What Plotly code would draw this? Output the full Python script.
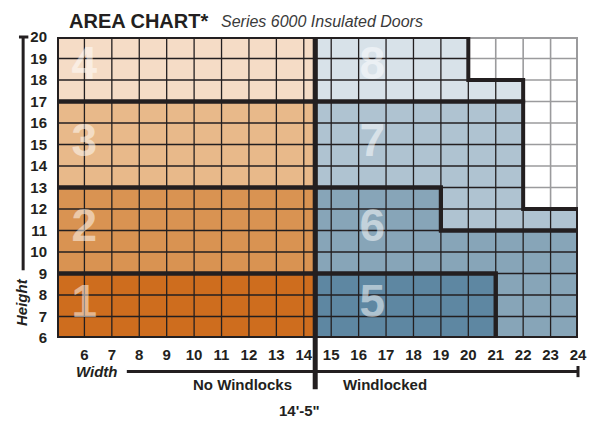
import plotly.graph_objects as go

# ---------------- data ----------------
width_ticks = list(range(6, 25))          # feet
height_ticks = list(range(6, 21))         # feet
divider = 14 + 5 / 12                     # 14'-5"

# top of coloured (allowed) area for each 1-ft column starting at 5..23
column_top = [20] * 15 + [18, 18, 12, 12]

orange_bands = [(6, 9), (9, 13), (13, 17), (17, 20)]
orange_colors = ["#CE6D1E", "#D99352", "#E8B98A", "#F5DCC6"]
orange_labels = ["1", "2", "3", "4"]
orange_label_y = [7.5, 11.05, 15.0, 18.6]

blue_x = [
    [divider, 21, 21, divider],
    [divider, 21, 21, 24, 24, 19, 19, divider],
    [divider, 19, 19, 24, 24, 22, 22, divider],
    [divider, 22, 22, 20, 20, divider],
]
blue_y = [
    [6, 6, 9, 9],
    [9, 9, 6, 6, 11, 11, 13, 13],
    [13, 13, 11, 11, 12, 12, 17, 17],
    [17, 17, 18, 18, 20, 20],
]
blue_colors = ["#5E87A2", "#87A5B8", "#AFC3D1", "#D8E2E9"]
blue_labels = ["5", "6", "7", "8"]
blue_label_y = [7.5, 11.05, 15.0, 18.6]

XMIN, XMAX = 5, 24
YMIN, YMAX = 6, 20

DARK = "#231F20"
GRAY = "#9B9B9D"
FONT = "Liberation Sans"

fig = go.Figure()

# ---------- fills ----------
for (y0, y1), c in zip(orange_bands, orange_colors):
    fig.add_trace(go.Scatter(x=[XMIN, divider, divider, XMIN], y=[y0, y0, y1, y1],
                             fill="toself", fillcolor=c, mode="lines",
                             line=dict(width=0), hoverinfo="skip", showlegend=False))
for xs, ys, c in zip(blue_x, blue_y, blue_colors):
    fig.add_trace(go.Scatter(x=xs, y=ys, fill="toself", fillcolor=c, mode="lines",
                             line=dict(width=0), hoverinfo="skip", showlegend=False))

# ---------- grid ----------
dark_x, dark_y, gray_x, gray_y = [], [], [], []
for xv in range(XMIN + 1, XMAX):
    top = max(column_top[xv - 1 - XMIN], column_top[xv - XMIN])
    dark_x += [xv, xv, None]; dark_y += [YMIN, top, None]
    if top < YMAX:
        gray_x += [xv, xv, None]; gray_y += [top, YMAX, None]
for yv in range(YMIN + 1, YMAX):
    right = XMIN + sum(1 for t in column_top if t >= yv)
    dark_x += [XMIN, right, None]; dark_y += [yv, yv, None]
    if right < XMAX:
        gray_x += [right, XMAX, None]; gray_y += [yv, yv, None]

fig.add_trace(go.Scatter(x=gray_x, y=gray_y, mode="lines", line=dict(color=GRAY, width=1.6),
                         hoverinfo="skip", showlegend=False))
# outer grey edge of the white (not available) area
first_short = XMIN + next(i for i, t in enumerate(column_top) if t < YMAX)
fig.add_trace(go.Scatter(x=[first_short, XMAX, XMAX], y=[YMAX, YMAX, column_top[-1]], mode="lines",
                         line=dict(color=GRAY, width=4), hoverinfo="skip", showlegend=False))
fig.add_trace(go.Scatter(x=dark_x, y=dark_y, mode="lines", line=dict(color=DARK, width=1.3),
                         hoverinfo="skip", showlegend=False))

# ---------- thick region outlines ----------
for (y0, y1) in orange_bands:
    fig.add_trace(go.Scatter(x=[XMIN, divider, divider, XMIN, XMIN], y=[y0, y0, y1, y1, y0],
                             mode="lines", line=dict(color=DARK, width=4),
                             hoverinfo="skip", showlegend=False))
for xs, ys in zip(blue_x, blue_y):
    fig.add_trace(go.Scatter(x=xs + [xs[0]], y=ys + [ys[0]], mode="lines",
                             line=dict(color=DARK, width=4),
                             hoverinfo="skip", showlegend=False))

# ---------- big region numbers ----------
num_font = dict(family=FONT, size=46, color="rgba(255,255,255,0.5)", weight="bold")
fig.add_trace(go.Scatter(x=[6.0] * 4, y=orange_label_y, text=orange_labels, mode="text",
                         textfont=num_font, hoverinfo="skip", showlegend=False))
fig.add_trace(go.Scatter(x=[16.5] * 4, y=blue_label_y, text=blue_labels, mode="text",
                         textfont=num_font, hoverinfo="skip", showlegend=False))

# ---------- decorations ----------
shapes = [
    dict(type="line", xref="x", yref="paper", x0=divider, x1=divider, y0=-0.17, y1=1,
         line=dict(color=DARK, width=5)),
    dict(type="line", xref="paper", yref="paper", x0=-0.065, x1=-0.065, y0=0.225, y1=1.003,
         line=dict(color=DARK, width=3)),
    dict(type="line", xref="paper", yref="paper", x0=-0.073, x1=-0.055, y0=1.0, y1=1.0,
         line=dict(color=DARK, width=3)),
    dict(type="line", xref="paper", yref="paper", x0=0.134, x1=1.0, y0=-0.111, y1=-0.111,
         line=dict(color=DARK, width=3)),
    dict(type="line", xref="paper", yref="paper", x0=1.0, x1=1.0, y0=-0.093, y1=-0.13,
         line=dict(color=DARK, width=3)),
]

annotations = [
    dict(text="AREA CHART*", xref="paper", yref="paper", x=0.02, y=1.053, xanchor="left",
         yanchor="middle", showarrow=False,
         font=dict(family=FONT, size=20, color=DARK, weight="bold")),
    dict(text="<i>Series 6000 Insulated Doors</i>", xref="paper", yref="paper", x=0.311, y=1.05,
         xanchor="left", yanchor="middle", showarrow=False,
         font=dict(family=FONT, size=16, color="#3A3A3A")),
    dict(text="<b><i>Height</i></b>", xref="paper", yref="paper", x=-0.067, y=0.12,
         xanchor="center", yanchor="middle", showarrow=False, textangle=-90,
         font=dict(family=FONT, size=15, color=DARK)),
    dict(text="<b><i>Width</i></b>", xref="paper", yref="paper", x=0.077, y=-0.111,
         xanchor="center", yanchor="middle", showarrow=False,
         font=dict(family=FONT, size=15, color=DARK)),
    dict(text="<b>No Windlocks</b>", xref="paper", yref="paper", x=0.357, y=-0.153,
         xanchor="center", yanchor="middle", showarrow=False,
         font=dict(family=FONT, size=15, color=DARK)),
    dict(text="<b>Windlocked</b>", xref="paper", yref="paper", x=0.63, y=-0.153,
         xanchor="center", yanchor="middle", showarrow=False,
         font=dict(family=FONT, size=15, color=DARK)),
    dict(text="<b>14'-5\"</b>", xref="paper", yref="paper", x=0.466, y=-0.241,
         xanchor="center", yanchor="middle", showarrow=False,
         font=dict(family=FONT, size=15, color=DARK)),
]

fig.update_layout(
    width=592, height=425, autosize=False,
    margin=dict(l=57, r=14, t=37, b=87),
    paper_bgcolor="white", plot_bgcolor="white",
    shapes=shapes, annotations=annotations,
    hovermode=False,
    xaxis=dict(range=[XMIN, XMAX], tickvals=width_ticks, ticktext=[str(v) for v in width_ticks],
               showgrid=False, zeroline=False, showline=False, automargin=False,
               ticks="outside", ticklen=3, tickcolor="rgba(0,0,0,0)",
               tickfont=dict(family=FONT, size=15, color=DARK, weight="bold"), fixedrange=True),
    yaxis=dict(range=[YMIN, YMAX], tickvals=height_ticks, ticktext=[str(v) for v in height_ticks],
               showgrid=False, zeroline=False, showline=False, automargin=False,
               ticks="outside", ticklen=6, tickcolor="rgba(0,0,0,0)",
               tickfont=dict(family=FONT, size=15, color=DARK, weight="bold"), fixedrange=True),
)

fig.write_html("out.html", config={"displayModeBar": False},
               post_script="document.body.style.margin='0';document.body.style.overflow='hidden';")
